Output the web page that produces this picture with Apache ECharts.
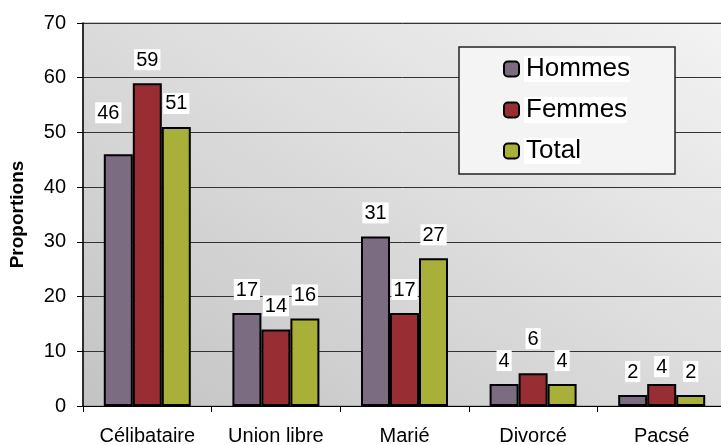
<!DOCTYPE html>
<html>
<head>
<meta charset="utf-8">
<script src="https://cdn.jsdelivr.net/npm/echarts@6/dist/echarts.min.js"></script>
<style>html,body{margin:0;padding:0;background:#fff}#c{width:721px;height:445px}</style>
</head>
<body>
<div id="c"></div>
<script>
var categories = ['Célibataire', 'Union libre', 'Marié', 'Divorcé', 'Pacsé'];
var hommes = [46, 17, 31, 4, 2];
var femmes = [59, 14, 17, 6, 4];
var total = [51, 16, 27, 4, 2];
var yTicks = [0, 10, 20, 30, 40, 50, 60, 70];

var FONT = 'Liberation Sans, Arial, sans-serif';
var chart = echarts.init(document.getElementById('c'), null, {renderer: 'canvas'});

// per-point label offsets (style only)
var offsets = {
  'Hommes': {0: [-10, -18]},
  'Femmes': {3: [0, -11], 4: [0, 6]},
  'Total': {}
};

function mk(name, vals, color) {
  return {
    name: name,
    type: 'bar',
    barWidth: 29,
    barGap: '0%',
    itemStyle: {color: color, borderColor: '#000', borderWidth: 2},
    label: {
      show: true, position: 'top', distance: 13,
      color: '#000', fontSize: 20, fontFamily: FONT,
      backgroundColor: '#fff', padding: [1, 2, 0, 2]
    },
    data: vals.map(function (v, i) {
      var o = offsets[name][i];
      return o ? {value: v, label: {offset: o}} : v;
    })
  };
}

chart.setOption({
  animation: false,
  backgroundColor: '#fff',
  grid: {
    left: 83, top: 23, width: 643, height: 383,
    outerBoundsMode: 'none',
    containLabel: false,
    show: true,
    borderColor: '#888', borderWidth: 1,
    backgroundColor: new echarts.graphic.LinearGradient(83, 406, 420, -159, [
      {offset: 0, color: '#C3C3C3'},
      {offset: 1, color: '#F3F3F3'}
    ], true)
  },
  legend: {
    orient: 'vertical',
    left: 459, top: 47,
    padding: [9, 45, 10, 44],
    itemGap: 15,
    itemWidth: 15, itemHeight: 15,
    backgroundColor: '#F4F4F4',
    borderColor: '#222', borderWidth: 1.5,
    textStyle: {fontSize: 26, fontFamily: FONT, color: '#000', backgroundColor: '#fff', padding: [0, 0, 0, 2]},
    itemStyle: {borderColor: '#000', borderWidth: 2},
    data: ['Hommes', 'Femmes', 'Total']
  },
  xAxis: {
    type: 'category',
    data: categories,
    axisLine: {lineStyle: {color: '#000', width: 1}},
    axisTick: {show: true, length: 6, lineStyle: {color: '#000'}},
    axisLabel: {fontSize: 20, fontFamily: FONT, color: '#000', margin: 20, interval: 0, hideOverlap: false}
  },
  yAxis: {
    type: 'value',
    min: yTicks[0], max: yTicks[yTicks.length - 1], interval: 10,
    name: 'Proportions',
    nameLocation: 'middle',
    nameGap: 56,
    nameRotate: 90,
    nameTextStyle: {fontSize: 19, fontWeight: 'bold', fontFamily: FONT, color: '#000'},
    axisLine: {show: true, lineStyle: {color: '#000', width: 1.5}},
    axisTick: {show: true, length: 6, lineStyle: {color: '#000'}},
    axisLabel: {fontSize: 20, fontFamily: FONT, color: '#000', margin: 17},
    splitLine: {show: true, lineStyle: {color: '#333', width: 1}}
  },
  series: [
    mk('Hommes', hommes, '#7B6C82'),
    mk('Femmes', femmes, '#982D34'),
    mk('Total', total, '#A8B03A')
  ]
});
</script>
</body>
</html>
